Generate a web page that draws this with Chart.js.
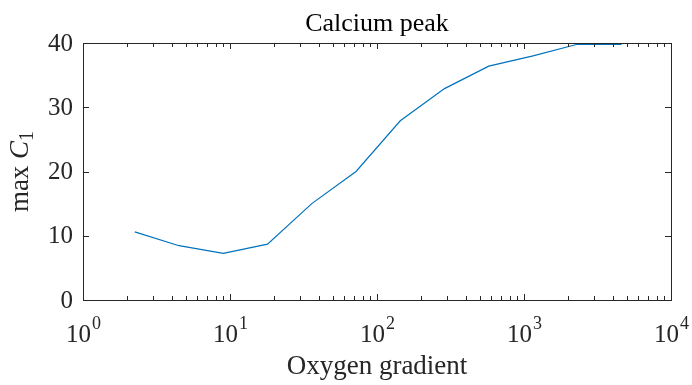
<!DOCTYPE html>
<html>
<head>
<meta charset="utf-8">
<script src="https://cdn.jsdelivr.net/npm/chart.js@4.4.1/dist/chart.umd.min.js"></script>
<style>
  html, body { margin: 0; padding: 0; background: #fff; }
  #wrap { width: 692px; height: 385px; }
</style>
</head>
<body>
<div id="wrap"><canvas id="peakChart" width="692" height="385"></canvas></div>
<script>
// Peak calcium against oxygen gradient
const oxygenGradient = [2.25, 4.5, 9, 18, 36, 72, 144, 288, 576, 1152, 2304, 4608];
const calciumPeak = [10.6, 8.45, 7.25, 8.7, 15.0, 20.0, 27.9, 32.9, 36.4, 38.0, 39.8, 39.8];

const xDecades = [1, 10, 100, 1000, 10000];
const xExponents = ['0', '1', '2', '3', '4'];
const yTicks = [0, 10, 20, 30, 40];

const titleText = 'Calcium peak';
const xTitle = 'Oxygen gradient';

const SERIF = "'Liberation Serif', 'Times New Roman', serif";
const AXIS_COLOR = '#262626';

// MATLAB-like box axes: inward ticks on all four sides, text drawn by hand
const boxAxes = {
    id: 'boxAxes',
    afterDraw(chart) {
        const ctx = chart.ctx;
        const area = chart.chartArea;
        const xs = chart.scales.x;
        const ys = chart.scales.y;
        const majorLen = 6, minorLen = 4;

        ctx.save();
        ctx.strokeStyle = AXIS_COLOR;
        ctx.lineWidth = 1;

        // frame
        ctx.strokeRect(Math.round(area.left) + 0.5, Math.round(area.top) + 0.5,
            Math.round(area.right - area.left), Math.round(area.bottom - area.top));

        ctx.beginPath();
        // x ticks, major decades plus 2..9 minors
        xDecades.forEach((d, i) => {
            const px = Math.round(xs.getPixelForValue(d)) + 0.5;
            ctx.moveTo(px, area.bottom); ctx.lineTo(px, area.bottom - majorLen);
            ctx.moveTo(px, area.top); ctx.lineTo(px, area.top + majorLen);
            if (i < xDecades.length - 1) {
                for (let m = 2; m <= 9; m++) {
                    const mx = Math.round(xs.getPixelForValue(d * m)) + 0.5;
                    ctx.moveTo(mx, area.bottom); ctx.lineTo(mx, area.bottom - minorLen);
                    ctx.moveTo(mx, area.top); ctx.lineTo(mx, area.top + minorLen);
                }
            }
        });
        // y ticks
        yTicks.forEach(v => {
            const py = Math.round(ys.getPixelForValue(v)) + 0.5;
            ctx.moveTo(area.left, py); ctx.lineTo(area.left + majorLen, py);
            ctx.moveTo(area.right, py); ctx.lineTo(area.right - majorLen, py);
        });
        ctx.stroke();

        ctx.fillStyle = AXIS_COLOR;

        // y tick labels
        ctx.font = '25px ' + SERIF;
        ctx.textAlign = 'right';
        ctx.textBaseline = 'middle';
        yTicks.forEach(v => {
            ctx.fillText(String(v), area.left - 10, ys.getPixelForValue(v) + 1);
        });

        // x tick labels as 10 with raised exponent
        ctx.textBaseline = 'alphabetic';
        ctx.textAlign = 'left';
        xDecades.forEach((d, i) => {
            const px = xs.getPixelForValue(d);
            ctx.font = '25px ' + SERIF;
            const baseW = ctx.measureText('10').width;
            ctx.font = '18px ' + SERIF;
            const expW = ctx.measureText(xExponents[i]).width;
            const x0 = px - (baseW + expW) / 2;
            ctx.font = '25px ' + SERIF;
            ctx.fillText('10', x0, 342);
            ctx.font = '18px ' + SERIF;
            ctx.fillText(xExponents[i], x0 + baseW + 1, 329);
        });

        // title
        ctx.fillStyle = '#000';
        ctx.textAlign = 'center';
        ctx.font = '26px ' + SERIF;
        ctx.fillText(titleText, (area.left + area.right) / 2, 31);

        // x axis title
        ctx.fillStyle = AXIS_COLOR;
        ctx.font = '27px ' + SERIF;
        ctx.fillText(xTitle, (area.left + area.right) / 2, 374);

        // y axis title: max C_1
        ctx.save();
        ctx.translate(28, (area.top + area.bottom) / 2);
        ctx.rotate(-Math.PI / 2);
        ctx.textAlign = 'left';
        ctx.font = '27px ' + SERIF;
        const wMax = ctx.measureText('max ').width;
        ctx.font = 'italic 27px ' + SERIF;
        const wC = ctx.measureText('C').width;
        ctx.font = '20px ' + SERIF;
        const wSub = ctx.measureText('1').width;
        let tx = -(wMax + wC + wSub) / 2;
        ctx.font = '27px ' + SERIF;
        ctx.fillText('max ', tx, 0);
        tx += wMax;
        ctx.font = 'italic 27px ' + SERIF;
        ctx.fillText('C', tx, 0);
        tx += wC;
        ctx.font = '20px ' + SERIF;
        ctx.fillText('1', tx, 5);
        ctx.restore();

        ctx.restore();
    }
};

new Chart(document.getElementById('peakChart'), {
    type: 'line',
    data: {
        datasets: [{
            data: oxygenGradient.map((x, i) => ({ x: x, y: calciumPeak[i] })),
            borderColor: '#0072BD',
            borderWidth: 1.2,
            pointRadius: 0,
            fill: false,
            tension: 0
        }]
    },
    options: {
        responsive: false,
        animation: false,
        devicePixelRatio: 1,
        layout: { padding: { left: 83, top: 43, right: 21, bottom: 85 } },
        plugins: {
            legend: { display: false },
            tooltip: { enabled: false }
        },
        scales: {
            x: { type: 'logarithmic', min: 1, max: 10000, display: false },
            y: { type: 'linear', min: 0, max: 40, display: false }
        }
    },
    plugins: [boxAxes]
});
</script>
</body>
</html>
